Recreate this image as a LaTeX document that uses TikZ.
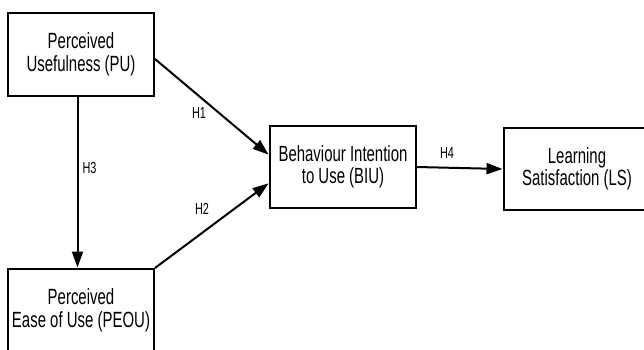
\documentclass[tikz,border=0pt]{standalone}
\usepackage{fontspec}
\setmainfont{Liberation Sans}[FakeStretch=0.68]
\usetikzlibrary{arrows.meta}
\tikzset{
  box/.style={draw=black, line width=2pt, minimum width=146pt, minimum height=83pt,
    inner sep=0pt, align=center, font=\fontsize{22}{22.5}\selectfont},
  conn/.style={line width=2pt, -{Triangle[length=16pt,width=11pt]}, shorten >=0.5pt},
  hlab/.style={font=\fontsize{16}{18}\selectfont, inner sep=0pt}
}
\begin{document}
\begin{tikzpicture}[x=1pt,y=-1pt]
\useasboundingbox (0,0) rectangle (644,349);
\clip (0,0) rectangle (644,349);
\fill[white] (0,0) rectangle (644,349);
\node[box] (pu) at (81,54.5) {Perceived\\Usefulness (PU)};
\node[box] (peou) at (81,310.5) {Perceived\\Ease of Use (PEOU)};
\node[box, minimum height=82pt] (biu) at (343,167) {Behaviour Intention\\to Use (BIU)};
\node[box, minimum height=82pt] (ls) at (577,169) {Learning\\Satisfaction (LS)};
\draw[conn] ([yshift=-4.5pt]pu.east) -- ([yshift=12pt]biu.west);
\draw[conn] (peou.north east) -- ([yshift=-16pt]biu.west);
\draw[conn] ([xshift=-3.5pt]pu.south) -- ([xshift=-3.5pt]peou.north);
\draw[conn] (biu.east) -- (ls.west);
\node[hlab] (h1) at (199,113) {H1};
\node[hlab] (h2) at (202,209) {H2};
\node[hlab] (h3) at (89.5,168) {H3};
\node[hlab] (h4) at (447,153) {H4};
\end{tikzpicture}
\end{document}
